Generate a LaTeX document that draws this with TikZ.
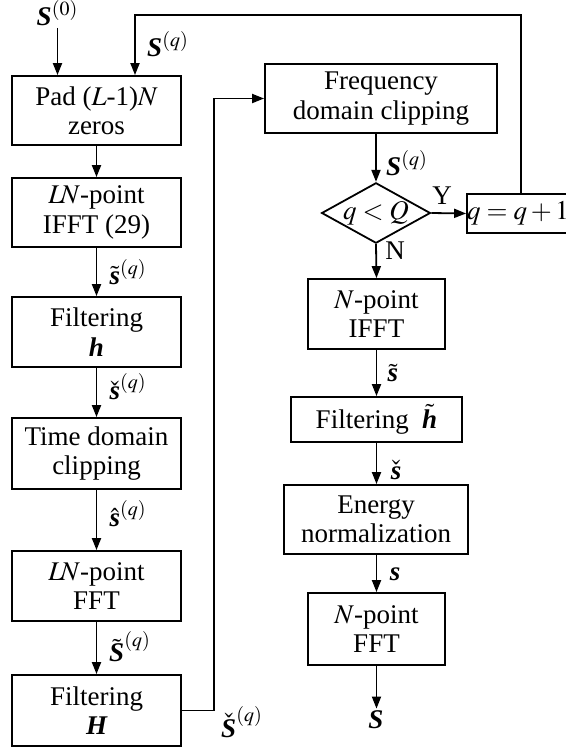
\documentclass[tikz,border=0pt]{standalone}
\usepackage{mathptmx}
\usepackage{fontspec}
\setmainfont{Liberation Serif}
\usetikzlibrary{shapes.geometric,arrows.meta}
\newcommand{\bvec}[1]{\mbox{\bfseries\itshape #1}}
\begin{document}
\begin{tikzpicture}[x=0.5pt,y=-0.5pt,
  every node/.style={font=\fontsize{13.5}{14.7}\selectfont},
  box/.style={draw,line width=0.9pt,rectangle,align=center,inner sep=0pt},
  dia/.style={draw,line width=0.9pt,diamond,aspect=1.8,inner sep=0pt,minimum width=52pt,minimum height=29pt},
  arr/.style={line width=0.9pt,-{Triangle[length=6pt,width=4.5pt]}},
  ln/.style={line width=0.9pt},
  lbl/.style={inner sep=1pt}]
\useasboundingbox (0,0) rectangle (566,750);
% left column
\node[box,minimum width=84.5pt,minimum height=34.5pt] (pad) at (96.5,110.5) {Pad ($L$-1)$N$\\zeros};
\node[box,minimum width=84.5pt,minimum height=34.5pt] (ifft) at (96.5,212.5) {$L\!N$-point\\IFFT (29)};
\node[box,minimum width=84.5pt,minimum height=35pt] (filth) at (96.5,332) {Filtering\\\bvec{h}};
\node[box,minimum width=84.5pt,minimum height=35.5pt] (tdc) at (96.5,453.5) {Time domain\\clipping};
\node[box,minimum width=84.5pt,minimum height=35pt] (fft) at (96.5,586) {$L\!N$-point\\FFT};
\node[box,minimum width=84.5pt,minimum height=35.5pt] (filtH) at (96.5,710.5) {Filtering\\\bvec{H}};
% right column
\node[box,minimum width=116pt,minimum height=34.5pt] (freq) at (381,98.5) {Frequency\\domain clipping};
\node[dia] (dec) at (376,213) {$q<Q$};
\node[box,minimum width=47.5pt,minimum height=19.5pt] (qq) at (518,213.5) {$q=q+1$};
\node[box,minimum width=68.5pt,minimum height=35pt] (nifft) at (376.5,314) {$N$-point\\IFFT};
\node[box,minimum width=85.5pt,minimum height=22.5pt] (filtht) at (376.5,419.5) {Filtering \ $\tilde{\bvec{h}}$};
\node[box,minimum width=92pt,minimum height=34.5pt] (energy) at (376,519.5) {Energy\\normalization};
\node[box,minimum width=68.5pt,minimum height=36pt] (nfft) at (376.5,629) {$N$-point\\FFT};
% labels
\node[lbl] (s0) at (57.5,13) {\bvec{S}$^{(0)}$};
\node[lbl] at (168,44) {\bvec{S}$^{(q)}$};
\node[lbl] at (128,272) {$\tilde{\bvec{s}}^{(q)}$};
\node[lbl] at (128,387) {$\check{\bvec{s}}^{(q)}$};
\node[lbl] at (128,514) {$\hat{\bvec{s}}^{(q)}$};
\node[lbl] at (130,647) {$\tilde{\bvec{S}}^{(q)}$};
\node[lbl] at (242,722) {$\check{\bvec{S}}^{(q)}$};
\node[lbl] at (407,163) {\bvec{S}$^{(q)}$};
\node[lbl] at (442,196) {Y};
\node[lbl] at (395,251) {N};
\node[lbl] at (393,373) {$\tilde{\bvec{s}}$};
\node[lbl] at (396,470) {$\check{\bvec{s}}$};
\node[lbl] at (395,574) {\bvec{s}};
\node[lbl] (sout) at (376,720) {\bvec{S}};
% coordinates
\coordinate (fbx) at (521,15);
\coordinate (fbin) at (135,15);
\coordinate (hx) at (214,0);
% connectors left
\draw[arr] (s0.south) -- (s0.south |- pad.north);
\draw[arr] (qq.north -| fbx) -- (fbx) -- (fbin) -- (fbin |- pad.north);
\draw[arr] (pad) -- (ifft);
\draw[arr] (ifft) -- (filth);
\draw[arr] (filth) -- (tdc);
\draw[arr] (tdc) -- (fft);
\draw[arr] (fft) -- (filtH);
\draw[arr] (filtH.east) -- (filtH.east -| hx) -- (hx |- freq.west) -- (freq.west);
% connectors right
\draw[arr] (freq.south -| dec.north) -- (dec.north);
\draw[arr] (dec.east) -- (qq.west);
\draw[arr] (dec.south) -- (nifft.north);
\draw[arr] (nifft.south) -- (nifft.south |- filtht.north);
\draw[arr] (filtht.south -| nifft.south) -- (nifft.south |- energy.north);
\draw[arr] (energy.south -| nifft.south) -- (nifft.south |- nfft.north);
\draw[arr] (nfft.south) -- (nfft.south |- sout.north);
\end{tikzpicture}
\end{document}
